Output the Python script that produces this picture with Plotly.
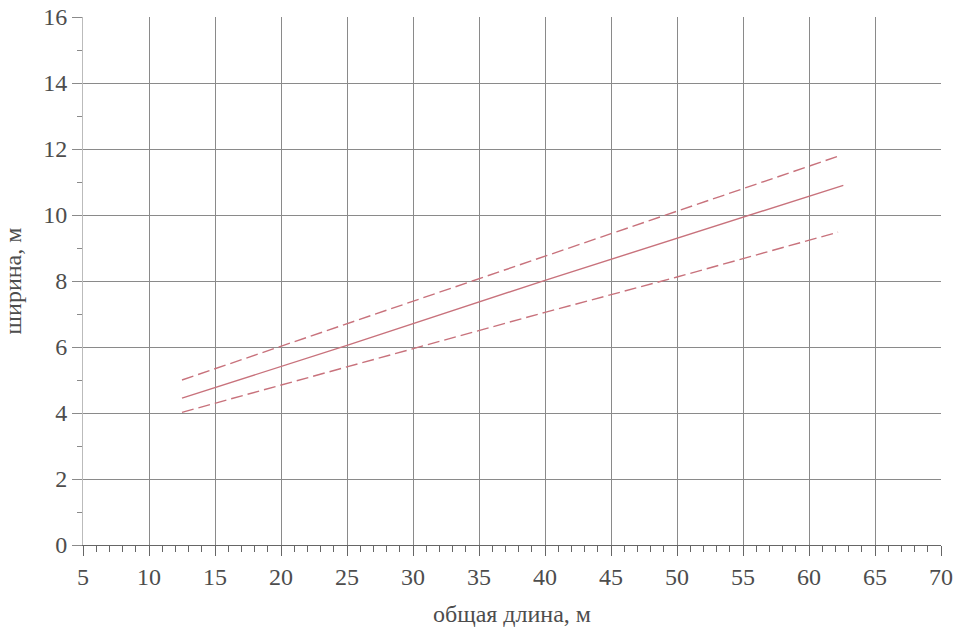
import plotly.graph_objects as go

# total length, m  -> width, m
length_upper = [12.5, 25.0, 40.0, 50.0, 62.2]
width_upper = [5.0, 6.7, 8.75, 10.1, 11.78]

length_mid = [12.5, 25.0, 40.0, 50.0, 62.6]
width_mid = [4.45, 6.05, 8.02, 9.3, 10.9]

length_lower = [12.5, 25.0, 40.0, 50.0, 62.2]
width_lower = [4.02, 5.4, 7.05, 8.12, 9.48]

_LINE = "#c8727c"
_GRID = "#8a8a8a"
_FONT = "Liberation Serif"
_TICKFONT = dict(family=_FONT, size=24, color="#4d4d4d")

fig = go.Figure()
fig.add_trace(go.Scatter(x=length_upper, y=width_upper, mode="lines",
                         line=dict(color=_LINE, width=1.4, dash="12px,5px")))
fig.add_trace(go.Scatter(x=length_mid, y=width_mid, mode="lines",
                         line=dict(color=_LINE, width=1.4)))
fig.add_trace(go.Scatter(x=length_lower, y=width_lower, mode="lines",
                         line=dict(color=_LINE, width=1.4, dash="12px,5px")))

fig.update_layout(
    width=954, height=632, showlegend=False,
    paper_bgcolor="white", plot_bgcolor="white",
    margin=dict(l=83, r=13, t=17, b=87),
    font=dict(family=_FONT, size=24, color="#4d4d4d"),
)
fig.update_xaxes(
    range=[5, 70], dtick=5, tick0=5, automargin=False,
    tickfont=_TICKFONT,
    showgrid=True, gridcolor=_GRID, gridwidth=1,
    showline=True, linecolor="#666666", linewidth=1,
    ticks="outside", ticklen=10, tickcolor="#666666",
    minor=dict(dtick=1, ticks="outside", ticklen=6, tickcolor="#666666",
               showgrid=False),
    zeroline=False,
    title=dict(text="общая длина, м", font=dict(size=24, family=_FONT),
               standoff=16),
)
fig.update_yaxes(
    range=[0, 16], dtick=2, automargin=False,
    tickfont=_TICKFONT,
    showgrid=True, gridcolor=_GRID, gridwidth=1,
    showline=True, linecolor="#bbbbbb", linewidth=1,
    ticks="outside", ticklen=10, tickcolor=_GRID,
    minor=dict(dtick=1, ticks="outside", ticklen=5, tickcolor=_GRID,
               showgrid=False),
    zeroline=False,
    title=dict(text="ширина, м", font=dict(size=24, family=_FONT),
               standoff=28),
)
fig.write_html("out.html", config={"displayModeBar": False},
               post_script="document.body.style.margin='0';")
